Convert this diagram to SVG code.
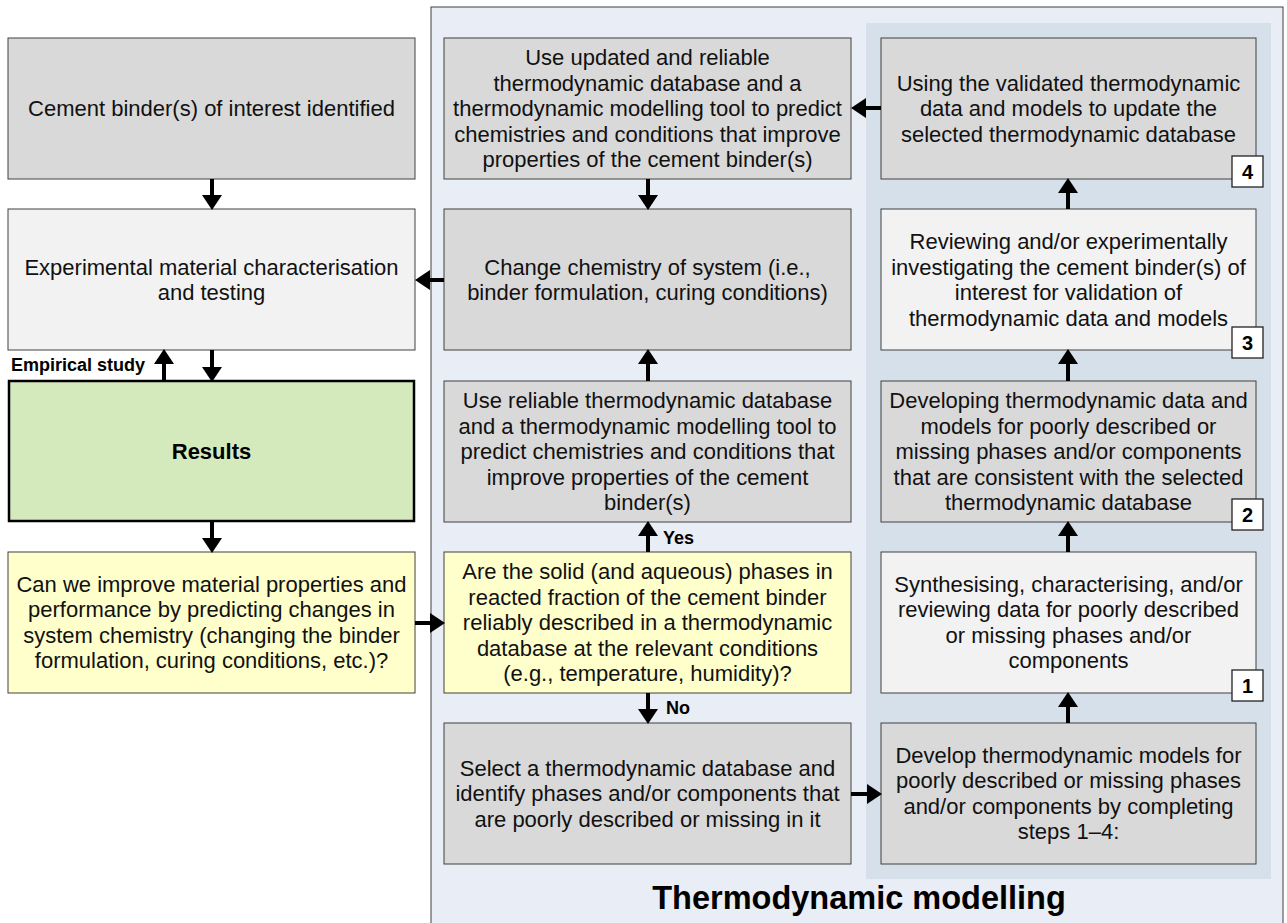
<svg xmlns="http://www.w3.org/2000/svg" width="1287" height="923" viewBox="0 0 1287 923">
<defs>
<marker id="ah" markerUnits="userSpaceOnUse" markerWidth="15" markerHeight="20" refX="0" refY="10" orient="auto" viewBox="0 0 15 20">
<path d="M0,0 L15,10 L0,20 z" fill="#000"/>
</marker>
</defs>
<style>
.box{stroke:#404040;stroke-width:1}
.g{fill:#d9d9d9}
.l{fill:#f2f2f2}
.y{fill:#ffffcc}
.t{font-family:"Liberation Sans",Arial,sans-serif;font-size:22px;fill:#111;text-anchor:middle}
.b{font-family:"Liberation Sans",Arial,sans-serif;font-weight:bold;fill:#000}
.badge{fill:#fff;stroke:#222;stroke-width:1.3}
.c line{stroke:#000;stroke-width:4;marker-end:url(#ah)}
</style>
<rect width="1287" height="923" fill="#fff"/>
<g id="panel-outer">
<rect x="431" y="7" width="852" height="925" fill="#e9edf5" stroke="#404040" stroke-width="1"/>
</g>
<g id="panel-inner">
<rect x="866" y="23" width="405" height="856" fill="#d6e0eb"/>
</g>
<text class="b" x="859" y="909" font-size="32.5" text-anchor="middle">Thermodynamic modelling</text>

<g id="n-cement">
<rect class="box g" x="8" y="38" width="407" height="141"/>
<text class="t" x="211.5" y="116">Cement binder(s) of interest identified</text>
</g>
<g id="n-experimental">
<rect class="box l" x="8" y="209" width="407" height="141"/>
<text class="t" x="211.5" y="274.5">Experimental material characterisation</text>
<text class="t" x="211.5" y="300">and testing</text>
</g>
<g id="n-results">
<rect x="9" y="381" width="405" height="140" fill="#d4eabc" stroke="#000" stroke-width="2.5"/>
<text class="b" x="211.5" y="459" font-size="22" text-anchor="middle">Results</text>
</g>
<g id="n-improve">
<rect class="box y" x="8" y="552" width="407" height="141"/>
<text class="t" x="211.5" y="591.5">Can we improve material properties and</text>
<text class="t" x="211.5" y="617">performance by predicting changes in</text>
<text class="t" x="211.5" y="642.5">system chemistry (changing the binder</text>
<text class="t" x="211.5" y="668">formulation, curing conditions, etc.)?</text>
</g>

<g id="n-use-updated">
<rect class="box g" x="444" y="38" width="407" height="141"/>
<text class="t" x="647.5" y="65">Use updated and reliable</text>
<text class="t" x="647.5" y="90.5">thermodynamic database and a</text>
<text class="t" x="647.5" y="116">thermodynamic modelling tool to predict</text>
<text class="t" x="647.5" y="141.5">chemistries and conditions that improve</text>
<text class="t" x="647.5" y="167">properties of the cement binder(s)</text>
</g>
<g id="n-change">
<rect class="box g" x="444" y="209" width="407" height="141"/>
<text class="t" x="647.5" y="274.5">Change chemistry of system (i.e.,</text>
<text class="t" x="647.5" y="300">binder formulation, curing conditions)</text>
</g>
<g id="n-use-reliable">
<rect class="box g" x="444" y="381" width="407" height="141"/>
<text class="t" x="647.5" y="408">Use reliable thermodynamic database</text>
<text class="t" x="647.5" y="433.5">and a thermodynamic modelling tool to</text>
<text class="t" x="647.5" y="459">predict chemistries and conditions that</text>
<text class="t" x="647.5" y="484.5">improve properties of the cement</text>
<text class="t" x="647.5" y="510">binder(s)</text>
</g>
<g id="n-question">
<rect class="box y" x="444" y="552" width="407" height="141"/>
<text class="t" x="647.5" y="579">Are the solid (and aqueous) phases in</text>
<text class="t" x="647.5" y="604.5">reacted fraction of the cement binder</text>
<text class="t" x="647.5" y="630">reliably described in a thermodynamic</text>
<text class="t" x="647.5" y="655.5">database at the relevant conditions</text>
<text class="t" x="647.5" y="681">(e.g., temperature, humidity)?</text>
</g>
<g id="n-select">
<rect class="box g" x="444" y="723" width="407" height="141"/>
<text class="t" x="647.5" y="775.5">Select a thermodynamic database and</text>
<text class="t" x="647.5" y="801">identify phases and/or components that</text>
<text class="t" x="647.5" y="826.5">are poorly described or missing in it</text>
</g>

<g id="n-step4">
<rect class="box g" x="881" y="38" width="375" height="141"/>
<text class="t" x="1068.5" y="90.5">Using the validated thermodynamic</text>
<text class="t" x="1068.5" y="116">data and models to update the</text>
<text class="t" x="1068.5" y="141.5">selected thermodynamic database</text>
<rect class="badge" x="1232" y="156" width="31" height="31"/>
<text class="b" x="1247.5" y="179" font-size="20" text-anchor="middle">4</text>
</g>
<g id="n-step3">
<rect class="box l" x="881" y="209" width="375" height="141"/>
<text class="t" x="1068.5" y="249">Reviewing and/or experimentally</text>
<text class="t" x="1068.5" y="274.5">investigating the cement binder(s) of</text>
<text class="t" x="1068.5" y="300">interest for validation of</text>
<text class="t" x="1068.5" y="325.5">thermodynamic data and models</text>
<rect class="badge" x="1232" y="327" width="31" height="31"/>
<text class="b" x="1247.5" y="350" font-size="20" text-anchor="middle">3</text>
</g>
<g id="n-step2">
<rect class="box g" x="881" y="381" width="375" height="141"/>
<text class="t" x="1068.5" y="408">Developing thermodynamic data and</text>
<text class="t" x="1068.5" y="433.5">models for poorly described or</text>
<text class="t" x="1068.5" y="459">missing phases and/or components</text>
<text class="t" x="1068.5" y="484.5">that are consistent with the selected</text>
<text class="t" x="1068.5" y="510">thermodynamic database</text>
<rect class="badge" x="1232" y="499" width="31" height="31"/>
<text class="b" x="1247.5" y="522" font-size="20" text-anchor="middle">2</text>
</g>
<g id="n-step1">
<rect class="box l" x="881" y="552" width="375" height="141"/>
<text class="t" x="1068.5" y="591.5">Synthesising, characterising, and/or</text>
<text class="t" x="1068.5" y="617">reviewing data for poorly described</text>
<text class="t" x="1068.5" y="642.5">or missing phases and/or</text>
<text class="t" x="1068.5" y="668">components</text>
<rect class="badge" x="1232" y="670" width="31" height="31"/>
<text class="b" x="1247.5" y="693" font-size="20" text-anchor="middle">1</text>
</g>
<g id="n-develop">
<rect class="box g" x="881" y="723" width="375" height="141"/>
<text class="t" x="1068.5" y="762.5">Develop thermodynamic models for</text>
<text class="t" x="1068.5" y="788">poorly described or missing phases</text>
<text class="t" x="1068.5" y="813.5">and/or components by completing</text>
<text class="t" x="1068.5" y="839">steps 1–4:</text>
</g>

<g id="connectors" class="c">
<line x1="212" y1="179" x2="212" y2="195"/>
<line x1="212" y1="350" x2="212" y2="367"/>
<line x1="164" y1="381" x2="164" y2="364"/>
<line x1="212" y1="522" x2="212" y2="538"/>
<line x1="415" y1="623" x2="430" y2="623"/>
<line x1="648" y1="179" x2="648" y2="195"/>
<line x1="444" y1="280" x2="430" y2="280"/>
<line x1="648" y1="381" x2="648" y2="364"/>
<line x1="648" y1="552" x2="648" y2="536"/>
<line x1="648" y1="693" x2="648" y2="709"/>
<line x1="851" y1="794" x2="867" y2="794"/>
<line x1="1068" y1="723" x2="1068" y2="707"/>
<line x1="1068" y1="552" x2="1068" y2="536"/>
<line x1="1068" y1="381" x2="1068" y2="364"/>
<line x1="1068" y1="209" x2="1068" y2="193"/>
<line x1="881" y1="108" x2="866" y2="108"/>
</g>
<g id="labels">
<text class="b" x="11" y="371" font-size="18">Empirical study</text>
<text class="b" x="663" y="544" font-size="18">Yes</text>
<text class="b" x="666" y="714" font-size="18">No</text>
</g>
</svg>
